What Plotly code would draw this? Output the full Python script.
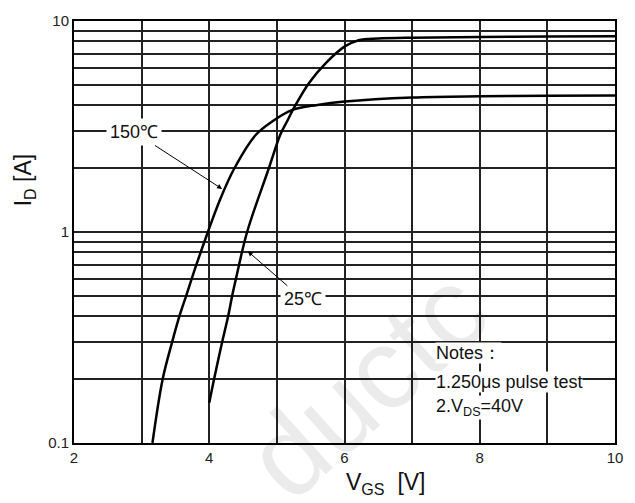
import math
import plotly.graph_objects as go

# Transfer characteristics: drain current vs gate-source voltage
vgs_150c = [3.16, 3.31, 3.45, 3.56, 3.66, 3.81, 3.98, 4.15, 4.37, 4.69, 4.93,
            5.23, 5.60, 6.00, 7.00, 8.00, 9.00, 10.00]
id_150c = [0.10, 0.20, 0.30, 0.40, 0.50, 0.70, 1.00, 1.40, 2.00, 2.89, 3.34,
           3.79, 4.00, 4.15, 4.34, 4.40, 4.42, 4.43]

vgs_25c = [4.00, 4.07, 4.19, 4.28, 4.34, 4.395, 4.56, 4.88, 5.05, 5.15, 5.25,
           5.47, 5.72, 6.01, 6.21, 6.50, 7.00, 8.00, 9.00, 10.00]
id_25c = [0.155, 0.20, 0.30, 0.40, 0.50, 0.60, 1.00, 2.00, 2.89, 3.34, 3.86,
          5.06, 6.30, 7.60, 8.11, 8.26, 8.34, 8.40, 8.44, 8.47]

x_ticks = [2, 4, 6, 8, 10]
x_minor = [3, 5, 7, 9]
y_ticks = [0.1, 1, 10]
y_tick_text = ["0.1", "1", "10"]
y_minor = [k * 10 ** e for e in (-1, 0) for k in range(2, 10)]

FONT = "Arial, Liberation Sans, sans-serif"
GRID = "#222222"

fig = go.Figure()
for vx, iy in ((vgs_150c, id_150c), (vgs_25c, id_25c)):
    fig.add_trace(go.Scatter(
        x=vx, y=iy, mode="lines",
        line=dict(color="black", width=2.5, shape="spline", smoothing=1.0),
        hoverinfo="skip", showlegend=False,
    ))

axis_common = dict(
    showline=True, mirror=True, linecolor="black", linewidth=2,
    showgrid=True, gridcolor=GRID, gridwidth=1.5,
    ticks="", zeroline=False,
    tickfont=dict(family=FONT, size=15, color="#222"),
)

fig.update_layout(
    width=635, height=503,
    margin=dict(l=74, r=17, t=19, b=60),
    paper_bgcolor="white", plot_bgcolor="white",
    font=dict(family=FONT, color="#111"),
    xaxis=dict(
        range=[2, 10], tickmode="array", tickvals=x_ticks,
        minor=dict(tickmode="array", tickvals=x_minor, showgrid=True,
                   gridcolor=GRID, gridwidth=1.5, ticks=""),
        **axis_common,
    ),
    yaxis=dict(
        type="log", range=[-1, 1], tickmode="array",
        tickvals=y_ticks, ticktext=y_tick_text,
        minor=dict(tickmode="array", tickvals=y_minor, showgrid=True,
                   gridcolor=GRID, gridwidth=1.5, ticks=""),
        **axis_common,
    ),
)

annotations = [
    # faint watermark
    dict(text="ductc", xref="paper", yref="paper", x=0.54, y=0.14,
         xanchor="center", yanchor="middle",
         showarrow=False, textangle=-42,
         font=dict(family=FONT, size=115, color="rgba(0,0,0,0.08)")),
    # curve labels with arrows
    dict(text="150℃", x=4.19, y=math.log10(1.6), xref="x", yref="y",
         showarrow=True, ax=-88, ay=-57, arrowhead=2, arrowsize=1,
         arrowwidth=1, arrowcolor="black", bgcolor="white", borderpad=3,
         font=dict(family=FONT, size=18, color="#111")),
    dict(text="25℃", x=4.57, y=math.log10(0.81), xref="x", yref="y",
         showarrow=True, ax=55, ay=48, arrowhead=2, arrowsize=1,
         arrowwidth=1, arrowcolor="black", bgcolor="white", borderpad=3,
         font=dict(family=FONT, size=18, color="#111")),
    # test notes
    dict(text="Notes：", x=7.34, y=math.log10(0.266), xref="x", yref="y",
         xanchor="left", showarrow=False, bgcolor="white", borderpad=0,
         font=dict(family=FONT, size=18, color="#111")),
    dict(text="1.250μs pulse test", x=7.34, y=math.log10(0.194),
         xref="x", yref="y", xanchor="left", showarrow=False,
         bgcolor="white", borderpad=0,
         font=dict(family=FONT, size=18, color="#111")),
    dict(text="2.V<sub>DS</sub>=40V", x=7.34, y=math.log10(0.148),
         xref="x", yref="y", xanchor="left", showarrow=False,
         bgcolor="white", borderpad=0,
         font=dict(family=FONT, size=18, color="#111")),
    # axis titles
    dict(text="V<sub>GS</sub>  [V]", xref="paper", yref="paper",
         x=0.577, y=-0.097, xanchor="center", yanchor="middle",
         showarrow=False, font=dict(family=FONT, size=23, color="#111")),
    dict(text="I<sub>D</sub> [A]", xref="paper", yref="paper",
         x=-0.092, y=0.623, xanchor="center", yanchor="middle",
         showarrow=False, textangle=-90,
         font=dict(family=FONT, size=23, color="#111")),
]
fig.update_layout(annotations=annotations)

fig.write_html("out.html")
